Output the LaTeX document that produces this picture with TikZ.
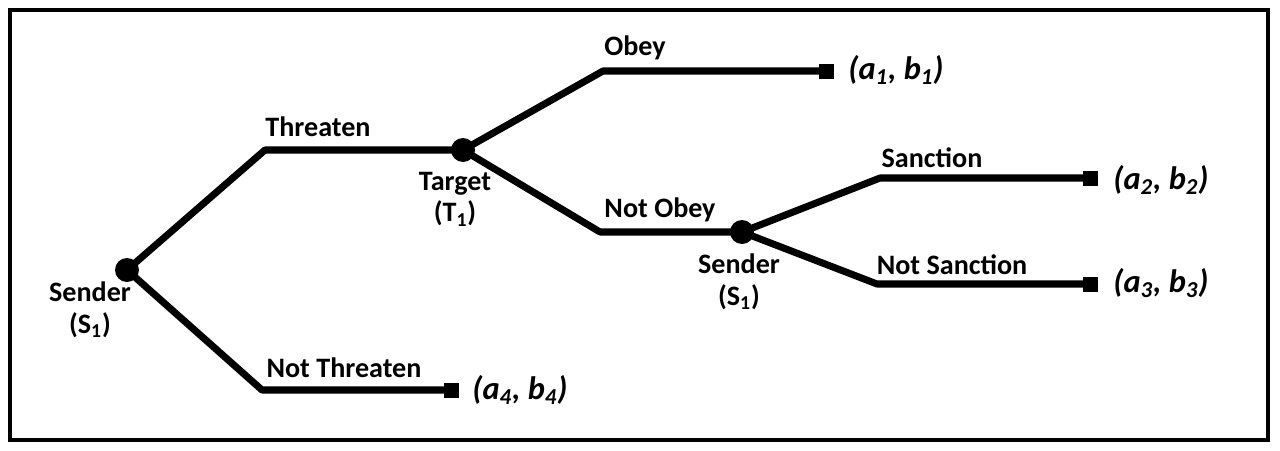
\documentclass[tikz,border=0pt]{standalone}
\usepackage{fontspec}
\setmainfont{Carlito}
\usetikzlibrary{positioning}

\begin{document}
\begin{tikzpicture}[
  x=0.02cm, y=-0.02cm,
  font=\fontsize{16}{18}\selectfont\bfseries,
  branch/.style={line width=4pt, line join=round},
  dec/.style={circle, fill=black, inner sep=0pt, minimum size=0.48cm},
  term/.style={rectangle, fill=black, inner sep=0pt, minimum size=0.3cm},
  lbl/.style={inner sep=1pt},
  who/.style={align=center, inner sep=1pt},
  pay/.style={anchor=west, inner sep=0pt, font=\fontsize{18.5}{20}\selectfont\bfseries\itshape}
]
\useasboundingbox (0,0) rectangle (1280,450);
\draw[line width=2.6pt] (10,10) rectangle (1268,440);

% decision nodes
\node[dec] (s1) at (127,270) {};
\node[dec] (t1) at (463,150) {};
\node[dec] (s2) at (742,232) {};

% bends
\coordinate (c1) at (265,150);
\coordinate (c2) at (262,390);
\coordinate (c3) at (603,71);
\coordinate (c4) at (600,232);
\coordinate (c5) at (880,178);
\coordinate (c6) at (877,284);

% outcomes
\node[term] (z1) at (826,71) {};
\node[term] (z2) at (1090,178) {};
\node[term] (z3) at (1090,284) {};
\node[term] (z4) at (451,390) {};

\draw[branch] (s1.center) -- (c1) -- (t1.center);
\draw[branch] (s1.center) -- (c2) -- (z4.center);
\draw[branch] (t1.center) -- (c3) -- (z1.center);
\draw[branch] (t1.center) -- (c4) -- (s2.center);
\draw[branch] (s2.center) -- (c5) -- (z2.center);
\draw[branch] (s2.center) -- (c6) -- (z3.center);

% move labels
\node[lbl] (l1) at (318,127) {Threaten};
\node[lbl] (l2) at (344,368) {Not Threaten};
\node[lbl] (l3) at (635,48) {Obey};
\node[lbl] (l4) at (660,210) {Not Obey};
\node[lbl] (l5) at (932,158) {Sanction};
\node[lbl] (l6) at (952,265) {Not Sanction};

% players
\node[who] (p1) at (90,310) {Sender\\(S\textsubscript{1})};
\node[who] (p2) at (455,199) {Target\\(T\textsubscript{1})};
\node[who] (p3) at (739,282) {Sender\\(S\textsubscript{1})};

% payoffs
\node[pay] (u1) at (848,70) {(a\textsubscript{1}, b\textsubscript{1})};
\node[pay] (u2) at (1113,180) {(a\textsubscript{2}, b\textsubscript{2})};
\node[pay] (u3) at (1113,283) {(a\textsubscript{3}, b\textsubscript{3})};
\node[pay] (u4) at (472,390) {(a\textsubscript{4}, b\textsubscript{4})};
\end{tikzpicture}
\end{document}
